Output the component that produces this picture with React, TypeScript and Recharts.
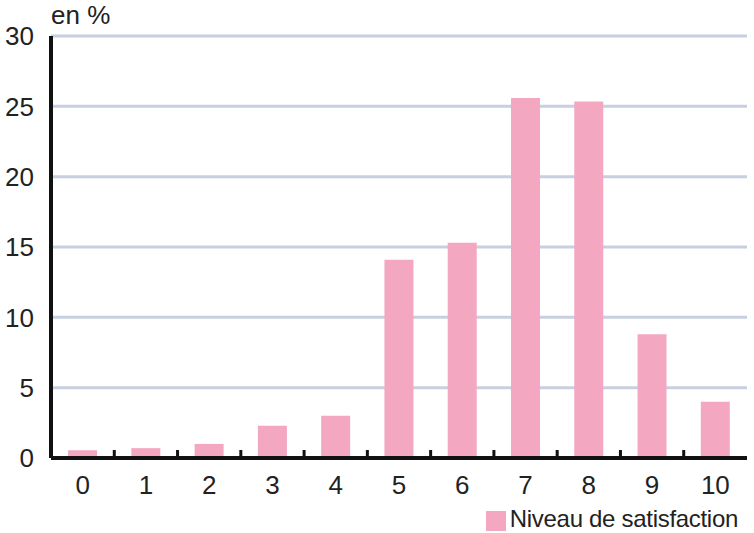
import { Bar, BarChart, CartesianGrid, Legend, XAxis, YAxis } from "recharts";

const levels = ["0", "1", "2", "3", "4", "5", "6", "7", "8", "9", "10"];
const shares = [0.55, 0.7, 1.0, 2.3, 3.0, 14.1, 15.3, 25.6, 25.35, 8.8, 4.0];
const yTicks = [0, 5, 10, 15, 20, 25, 30];

const FONT = "'Liberation Sans', Arial, sans-serif";
const PINK = "#f3a7c1";
const TICK_GAP = 18;

// category label plus a small upward tick on the boundary to the right of the band
function LevelTick(props: any) {
  const { x, y, payload, index, visibleTicksCount } = props;
  const half = payload.offset || 0;
  const axisY = y - TICK_GAP;
  return (
    <g>
      {index < visibleTicksCount - 1 && (
        <line x1={x + half} x2={x + half} y1={axisY - 2} y2={axisY - 8} stroke="#111" strokeWidth={3} />
      )}
      <text x={x} y={y} dy="0.71em" textAnchor="middle" fill="#222" fontSize={26} fontFamily={FONT}>
        {payload.value}
      </text>
    </g>
  );
}

export default function App() {
  const data = levels.map((level, i) => ({ level, value: shares[i] }));

  return (
    <div style={{ position: "absolute", left: 0, top: 0, width: 754, height: 533, background: "#fff", fontFamily: FONT }}>
      <div style={{ position: "absolute", left: 51, top: 0, fontSize: 26, color: "#222", lineHeight: "30px" }}>en %</div>
      <BarChart
        width={754}
        height={533}
        data={data}
        barCategoryGap="27%"
        margin={{ top: 36, right: 7, left: 0, bottom: 5 }}
      >
        <CartesianGrid horizontal vertical={false} stroke="#c8cfe0" strokeWidth={3} />
        <XAxis
          dataKey="level"
          height={42}
          tickLine={false}
          tickSize={0}
          tickMargin={TICK_GAP}
          axisLine={{ stroke: "#111", strokeWidth: 4 }}
          tick={<LevelTick />}
          interval={0}
        />
        <YAxis
          domain={[0, 30]}
          ticks={yTicks}
          width={51}
          tickLine={false}
          tickSize={0}
          tickMargin={17}
          axisLine={{ stroke: "#111", strokeWidth: 4 }}
          tick={{ fill: "#222", fontSize: 26, fontFamily: FONT }}
        />
        <Legend
          verticalAlign="bottom"
          align="right"
          iconType="square"
          iconSize={20}
          wrapperStyle={{ fontSize: 24, fontFamily: FONT, color: "#222", right: 6, bottom: 0, lineHeight: "28px" }}
          formatter={(v) => <span style={{ color: "#222", letterSpacing: -0.3 }}>{v}</span>}
        />
        <Bar dataKey="value" name="Niveau de satisfaction" fill={PINK} isAnimationActive={false} />
      </BarChart>
    </div>
  );
}
